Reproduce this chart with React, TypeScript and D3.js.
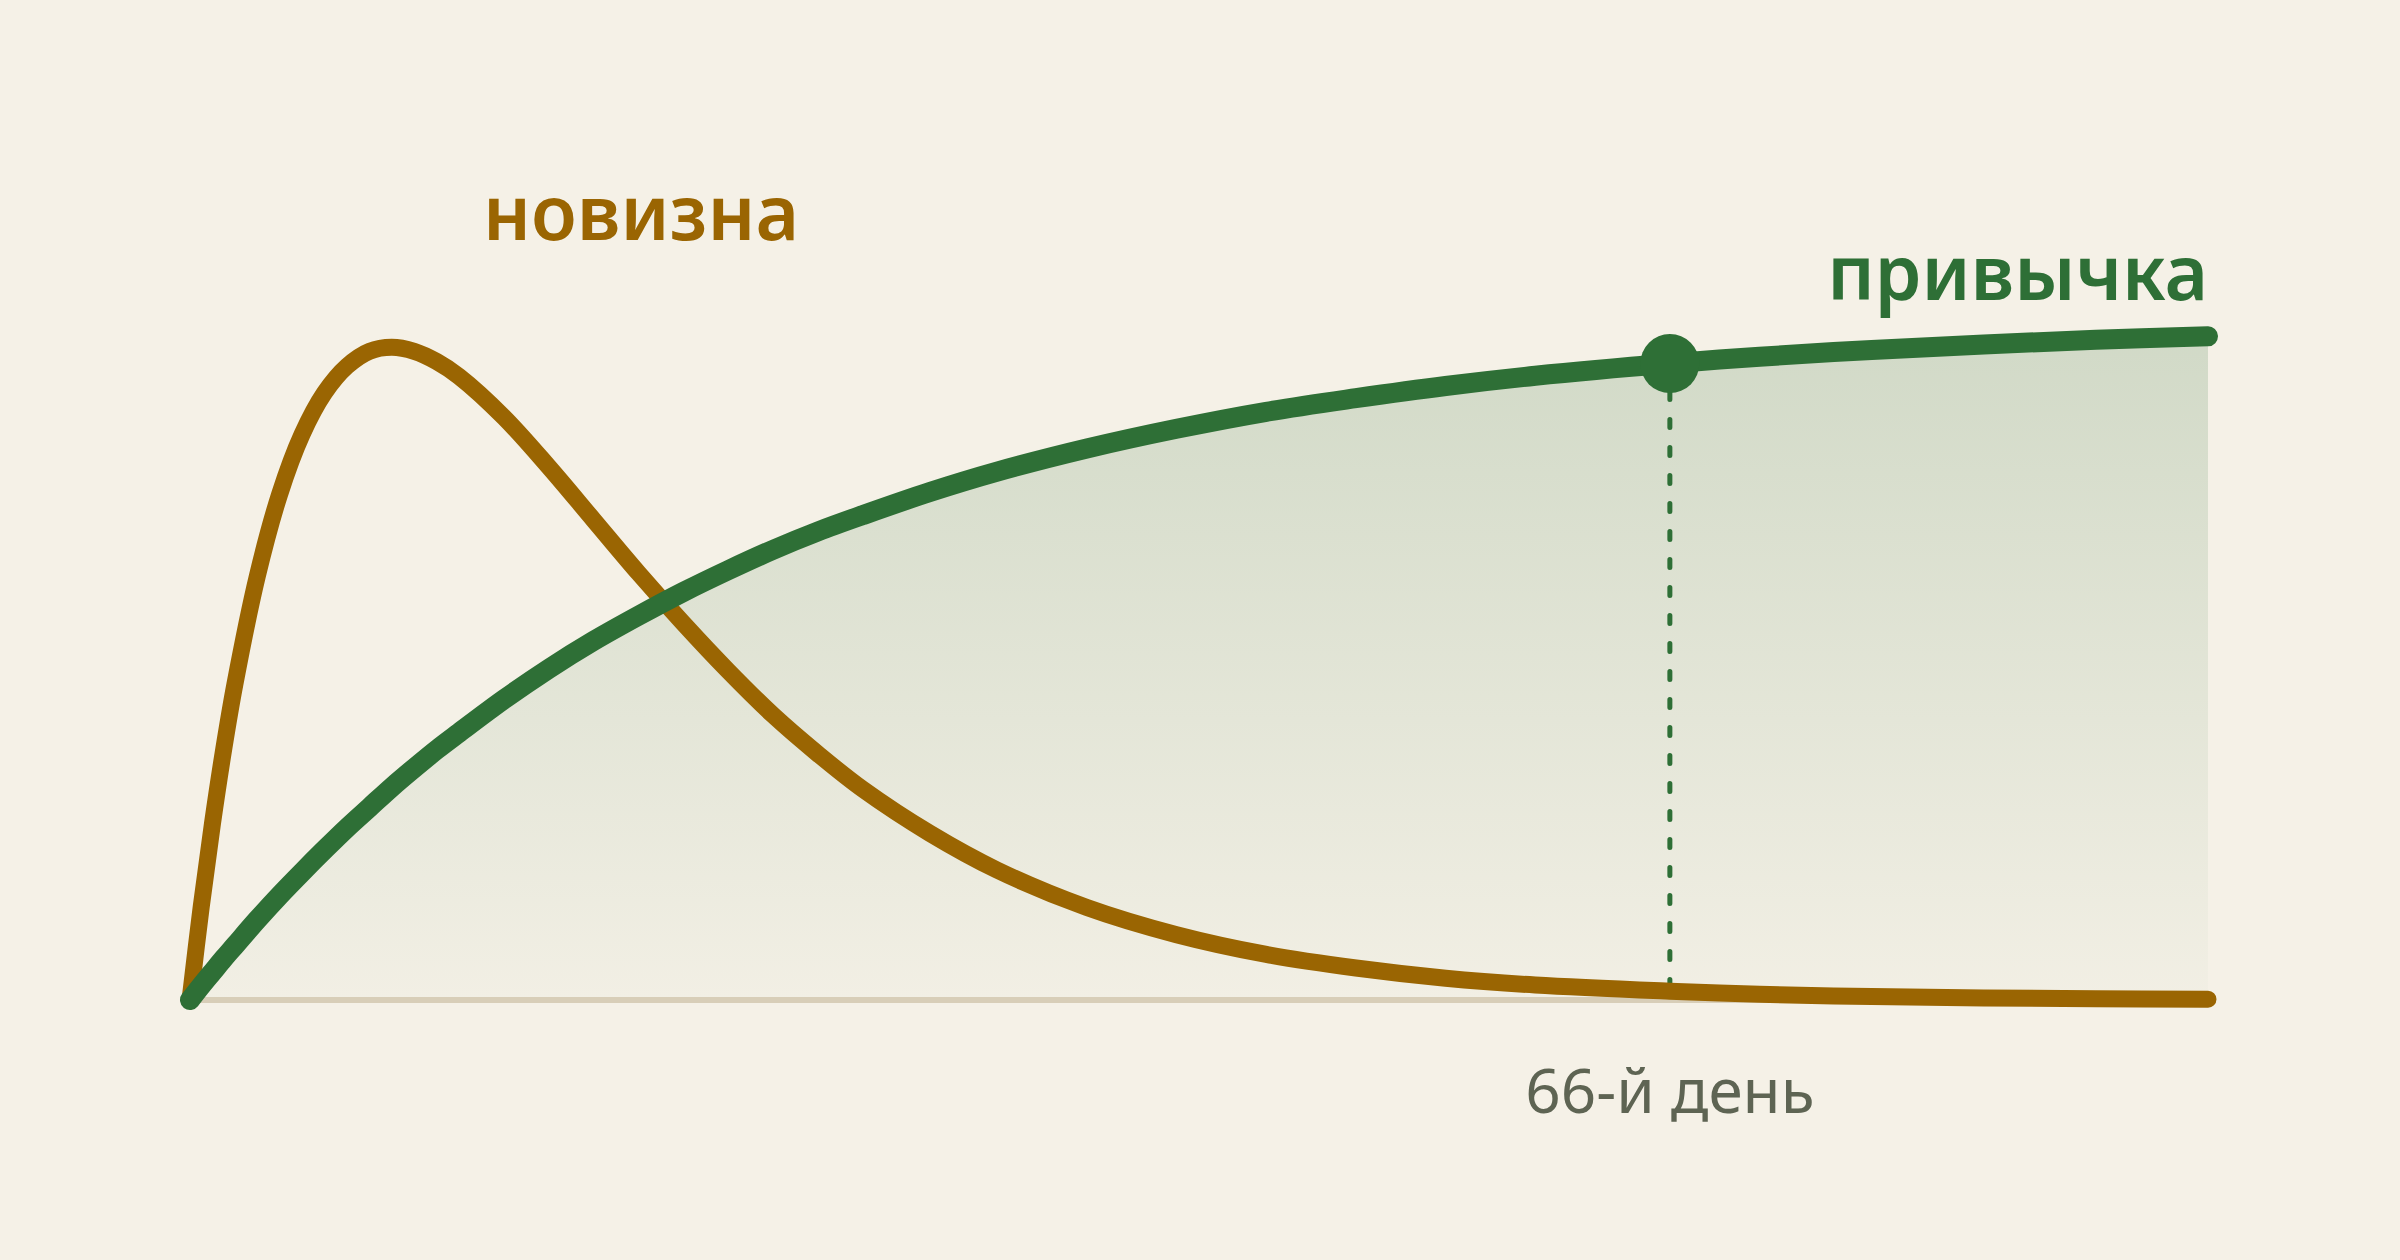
import * as d3 from "d3"

// days since start (x runs 0–90 days)
const DAYS = [0, 0.5, 1, 1.5, 2, 3, 4, 5, 6, 7, 8, 9, 10, 11, 12, 14, 16, 18, 20, 22, 24, 26, 28, 30, 33, 36, 40, 44, 48, 52, 56, 60, 66, 70, 75, 80, 85, 90]

// "новизна" — quick spike, then fades away
const NOVELTY = [0, 13.7, 25.9, 36.8, 46.4, 62.3, 74.4, 83.2, 89.3, 93.2, 95.4, 96.0, 95.4, 93.9, 91.7, 85.7, 78.4, 70.6, 62.8, 55.4, 48.4, 41.9, 36.2, 31.0, 24.5, 19.1, 13.6, 9.6, 6.7, 4.7, 3.2, 2.2, 1.3, 0.85, 0.5, 0.3, 0.2, 0.1]

// "привычка" — slow build-up that saturates
const HABIT = [0, 2.1, 4.1, 6.1, 8.0, 11.8, 15.4, 18.8, 22.1, 25.3, 28.3, 31.3, 34.1, 36.8, 39.3, 44.2, 48.7, 52.8, 56.5, 60.0, 63.2, 66.2, 68.9, 71.3, 74.7, 77.7, 81.1, 84.0, 86.5, 88.5, 90.3, 91.8, 93.6, 94.6, 95.6, 96.4, 97.1, 97.6]

const MARK_DAY = 66
const MARK_LABEL = "66-й день"
const NOVELTY_LABEL = "новизна"
const HABIT_LABEL = "привычка"

const W = 2400
const H = 1260
const BG = "#f5f1e7"
const GREEN = "#2e6f36"
const ORANGE = "#9a6502"
const FONT = `"Noto Sans", "Open Sans", sans-serif`

type Pt = { d: number; v: number }

export default function App() {
  const x = d3.scaleLinear().domain([0, 90]).range([190, 2208])
  const y = d3.scaleLinear().domain([0, 100]).range([1000, 320])

  const novelty: Pt[] = DAYS.map((d, i) => ({ d, v: NOVELTY[i] }))
  const habit: Pt[] = DAYS.map((d, i) => ({ d, v: HABIT[i] }))

  const curve = d3.curveCatmullRom.alpha(0.5)

  const line = d3
    .line<Pt>()
    .x((p) => x(p.d))
    .y((p) => y(p.v))
    .curve(curve)

  const area = d3
    .area<Pt>()
    .x((p) => x(p.d))
    .y0(y(0))
    .y1((p) => y(p.v))
    .curve(curve)

  const markV = HABIT[DAYS.indexOf(MARK_DAY)]
  const mx = x(MARK_DAY)
  const my = y(markV)

  return (
    <>
      <style>{`html,body{margin:0;padding:0;background:${BG}}`}</style>
      <svg
        width={W}
        height={H}
        viewBox={`0 0 ${W} ${H}`}
        style={{ display: "block", position: "absolute", left: 0, top: 0 }}
      >
        <defs>
          <linearGradient id="habitFill" x1="0" y1="0" x2="0" y2="1">
            <stop offset="0%" stopColor={GREEN} stopOpacity={0.18} />
            <stop offset="100%" stopColor={GREEN} stopOpacity={0.015} />
          </linearGradient>
        </defs>
        <rect width={W} height={H} fill={BG} />

        {/* area under the habit curve */}
        <path d={area(habit) ?? undefined} fill="url(#habitFill)" />

        {/* baseline */}
        <line x1={x(0)} x2={x(90)} y1={y(0)} y2={y(0)} stroke="#d8ceb8" strokeWidth={6} />

        {/* dotted guide down from the marker */}
        <line
          x1={mx}
          x2={mx}
          y1={my}
          y2={y(0)}
          stroke={GREEN}
          strokeWidth={5}
          strokeDasharray="8 20"
          strokeLinecap="round"
        />

        <path
          d={line(novelty) ?? undefined}
          fill="none"
          stroke={ORANGE}
          strokeWidth={17}
          strokeLinecap="round"
          strokeLinejoin="round"
        />
        <path
          d={line(habit) ?? undefined}
          fill="none"
          stroke={GREEN}
          strokeWidth={20}
          strokeLinecap="round"
          strokeLinejoin="round"
        />

        <circle cx={mx} cy={my} r={29.5} fill={GREEN} />

        <text
          x={641}
          y={240}
          textAnchor="middle"
          fontFamily={FONT}
          fontWeight={600}
          fontSize={75}
          fill={ORANGE}
        >
          {NOVELTY_LABEL}
        </text>
        <text
          x={x(90)}
          y={300}
          textAnchor="end"
          fontFamily={FONT}
          fontWeight={600}
          fontSize={75}
          fill={GREEN}
        >
          {HABIT_LABEL}
        </text>
        <text
          x={mx}
          y={1113}
          textAnchor="middle"
          fontFamily={FONT}
          fontSize={62}
          fill="#5e6453"
        >
          {MARK_LABEL}
        </text>
      </svg>
    </>
  )
}
